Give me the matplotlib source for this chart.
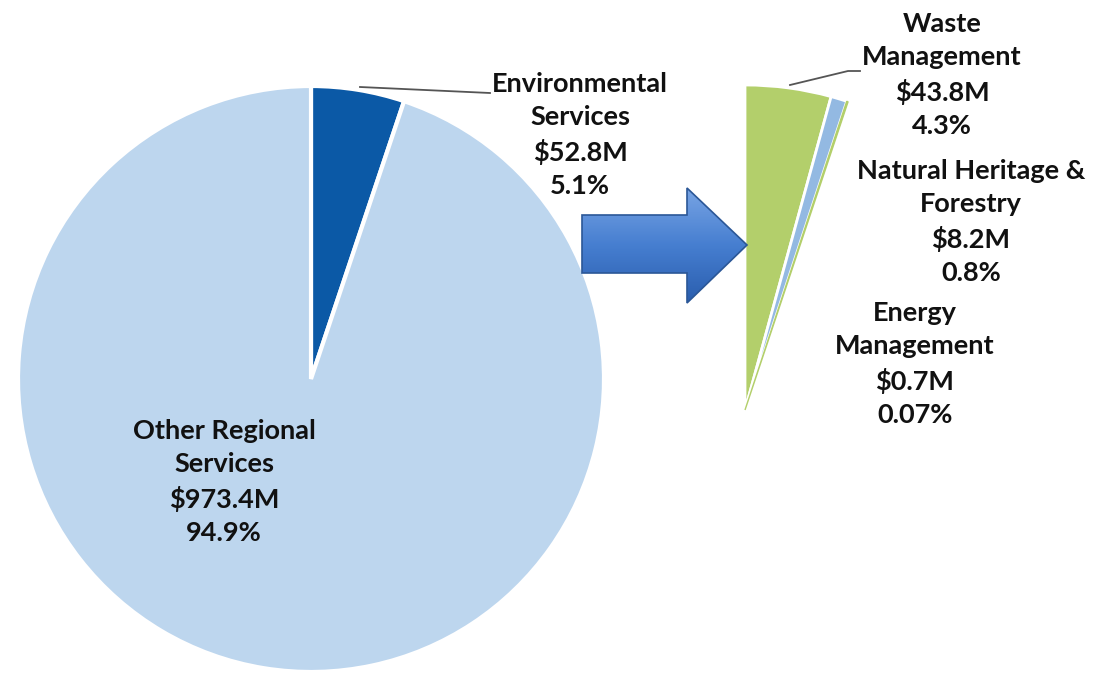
import numpy as np
import matplotlib.pyplot as plt
from matplotlib.patches import Polygon
from matplotlib.colors import LinearSegmentedColormap

# values in $M
main_labels = ["Environmental\nServices", "Other Regional\nServices"]
main_values = [52.8, 973.4]
main_pct = ["5.1%", "94.9%"]

sub_labels = ["Waste\nManagement", "Natural Heritage &\nForestry", "Energy\nManagement"]
sub_values = [43.8, 8.2, 0.7]
sub_pct = ["4.3%", "0.8%", "0.07%"]

main_colors = ["#0b59a6", "#bdd6ee"]
sub_colors = ["#b3cf6b", "#93b9e2", "#b3cf6b"]

W, H = 1096, 675
plt.rcParams['font.family'] = ['Lato', 'DejaVu Sans']

fig = plt.figure(figsize=(W / 100, H / 100), dpi=100)
ax = fig.add_axes([0, 0, 1, 1])

def iy(y):
    # image row -> data y
    return H - y

# big pie
ax.pie(main_values, colors=main_colors, startangle=90, counterclock=False,
       center=(311, iy(379)), radius=293, frame=True,
       wedgeprops=dict(edgecolor="white", linewidth=3))

# breakdown of environmental services, same angular scale
total = sum(main_values)
fracs = [v / total for v in sub_values]
wedges, _ = ax.pie(fracs, colors=sub_colors, startangle=90, counterclock=False,
                   normalize=False, center=(745, iy(410)), radius=325, frame=True,
                   wedgeprops=dict(edgecolor="white", linewidth=2))
wedges[2].set_edgecolor(sub_colors[2])
wedges[2].set_linewidth(1)

# arrow with gradient fill
pts = [(582, 215), (687, 215), (687, 188), (747, 245), (687, 303), (687, 273), (582, 273)]
pts = [(x, iy(y)) for x, y in pts]
arrow = Polygon(pts, closed=True, facecolor="none", edgecolor="#2b5797", linewidth=1.2, zorder=3)
ax.add_patch(arrow)
grad = np.linspace(0, 1, 100).reshape(-1, 1)
cmap = LinearSegmentedColormap.from_list("arr", ["#78a4e4", "#467ed0", "#2a5eae"])
im = ax.imshow(grad, cmap=cmap, extent=(582, 747, iy(303), iy(188)), aspect="auto", zorder=2)
im.set_clip_path(arrow)

# leader lines
ax.plot([360, 490], [iy(87), iy(93)], color="#555555", lw=1.3)
ax.plot([790, 848, 860], [iy(85), iy(71), iy(71)], color="#555555", lw=1.3)

fs = 19.5
ls = 1.46
kw = dict(ha="center", va="center", fontsize=fs, fontweight="bold",
          linespacing=ls, color="#111111", zorder=5)

ax.text(580, iy(135), f"{main_labels[0]}\n${main_values[0]}M\n{main_pct[0]}", **kw)
ax.text(224, iy(482), f"{main_labels[1]}\n${main_values[1]}M\n{main_pct[1]}", **kw)

sub_pos = [(942, 75), (971, 222), (915, 364)]
for (x, y), lab, v, p in zip(sub_pos, sub_labels, sub_values, sub_pct):
    ax.text(x, iy(y), f"{lab}\n${v}M\n{p}", **kw)

ax.set_xlim(0, W)
ax.set_ylim(0, H)
ax.set_aspect("equal")
ax.axis("off")

fig.savefig("out.png", dpi=100)
